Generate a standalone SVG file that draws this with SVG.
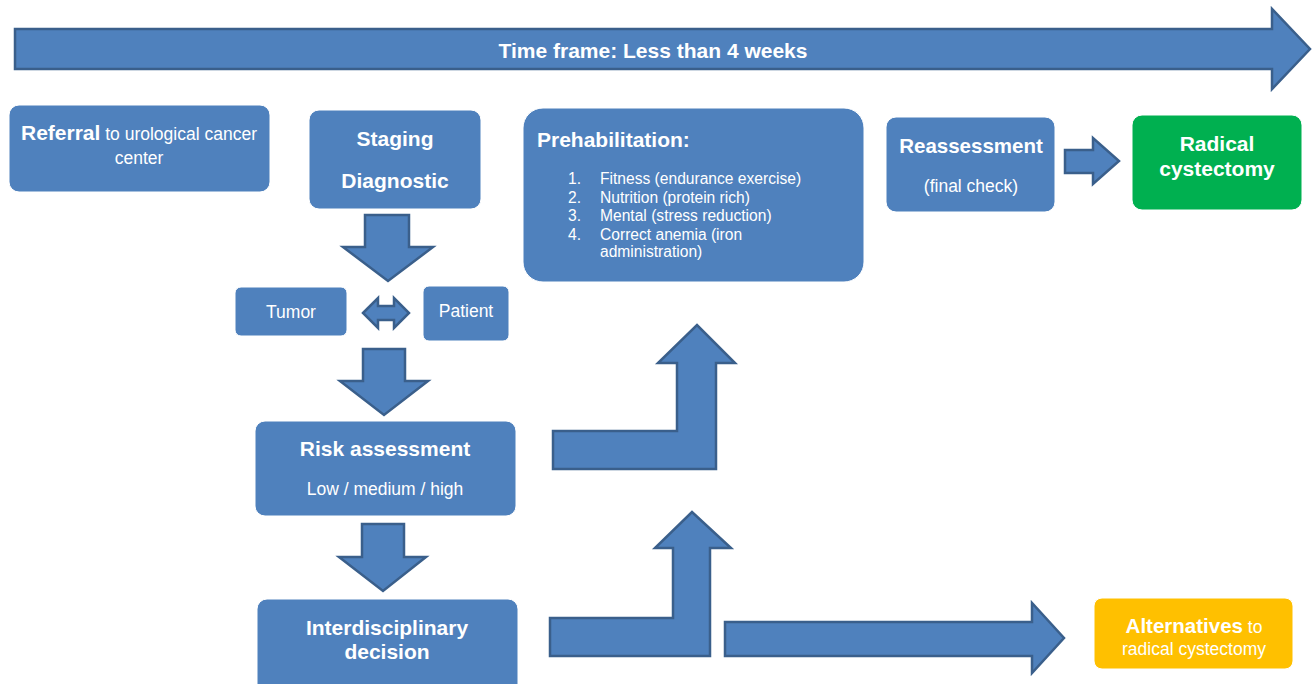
<svg xmlns="http://www.w3.org/2000/svg" width="1312" height="684" viewBox="0 0 1312 684">
<style>
.box{fill:#4F81BD;stroke:#ffffff;stroke-width:1}
.arr{fill:#4F81BD;stroke:#3A5F8B;stroke-width:2.5;stroke-linejoin:miter}
text{font-family:"Liberation Sans",Arial,sans-serif;fill:#ffffff}
.b{font-weight:bold;font-size:21px}
.r{font-size:17.5px}
.l{font-size:15.6px}
.c{text-anchor:middle}
</style>
<rect width="1312" height="684" fill="#ffffff"/>
<g id="timeframe">
<polygon class="arr" points="15,29 1272,29 1272,9 1310,49 1272,89 1272,69 15,69"/>
<text class="b c" x="653" y="58">Time frame: Less than 4 weeks</text>
</g>
<g id="connectors">
<polygon class="arr" points="365,215 409,215 409,247 433,247 388,281 343,247 365,247"/>
<polygon class="arr" points="363,313 378,298 378,306 394,306 394,298 409,313 394,328 394,320 378,320 378,328"/>
<polygon class="arr" points="363,349 405,349 405,381 428,381 384,415 340,381 363,381"/>
<polygon class="arr" points="362,524 404,524 404,557 426,557 383,591 339,557 362,557"/>
<polygon class="arr" points="553,431 677,431 677,363 658,363 697,325 735,363 716,363 716,469 553,469"/>
<polygon class="arr" points="550,618 673,618 673,548 655,548 692,512 731,548 710,548 710,656 550,656"/>
<polygon class="arr" points="725,622 1032,622 1032,603 1064,638 1032,673 1032,656 725,656"/>
<polygon class="arr" points="1065,150 1093,150 1093,138 1119,161 1093,184 1093,173 1065,173"/>
</g>
<g id="referral">
<rect class="box" x="9" y="105" width="261" height="87" rx="10"/>
<text class="c" x="139" y="140"><tspan font-weight="bold" font-size="21px">Referral</tspan><tspan font-size="17.5px"> to urological cancer</tspan></text>
<text class="r c" x="139" y="164">center</text>
</g>
<g id="staging">
<rect class="box" x="309" y="110" width="172" height="99" rx="10"/>
<text class="b c" x="395" y="146">Staging</text>
<text class="b c" x="395" y="188">Diagnostic</text>
</g>
<g id="tumor">
<rect class="box" x="235" y="287" width="112" height="49" rx="6"/>
<text class="r c" x="291" y="318">Tumor</text>
</g>
<g id="patient">
<rect class="box" x="423" y="286" width="86" height="55" rx="6"/>
<text class="r c" x="466" y="317">Patient</text>
</g>
<g id="risk">
<rect class="box" x="255" y="421" width="261" height="95" rx="10"/>
<text class="b c" x="385" y="456">Risk assessment</text>
<text class="r c" x="385" y="495">Low / medium / high</text>
</g>
<g id="decision">
<rect class="box" x="257" y="599" width="261" height="100" rx="10"/>
<text class="b c" x="387" y="635">Interdisciplinary</text>
<text class="b c" x="387" y="659">decision</text>
</g>
<g id="prehab">
<rect class="box" x="523" y="108" width="341" height="174" rx="20"/>
<text class="b" x="537" y="147">Prehabilitation:</text>
<text class="l" x="568" y="184">1.</text><text class="l" x="600" y="184">Fitness (endurance exercise)</text>
<text class="l" x="568" y="203">2.</text><text class="l" x="600" y="203">Nutrition (protein rich)</text>
<text class="l" x="568" y="221">3.</text><text class="l" x="600" y="221">Mental (stress reduction)</text>
<text class="l" x="568" y="240">4.</text><text class="l" x="600" y="240">Correct anemia (iron</text>
<text class="l" x="600" y="257">administration)</text>
</g>
<g id="reassessment">
<rect class="box" x="886" y="117" width="169" height="95" rx="10"/>
<text class="c" x="971" y="153" font-weight="bold" font-size="20.5px">Reassessment</text>
<text class="r c" x="971" y="192">(final check)</text>
</g>
<g id="cystectomy">
<rect x="1132" y="115" width="170" height="95" rx="10" fill="#00B050" stroke="#ffffff"/>
<text class="b c" x="1217" y="151">Radical</text>
<text class="b c" x="1217" y="176">cystectomy</text>
</g>
<g id="alternatives">
<rect x="1094" y="598" width="199" height="71" rx="8" fill="#FFC000" stroke="#ffffff"/>
<text class="c" x="1194" y="633"><tspan font-weight="bold" font-size="20.5px">Alternatives</tspan><tspan font-size="17.5px"> to</tspan></text>
<text class="r c" x="1194" y="655">radical cystectomy</text>
</g>
</svg>
